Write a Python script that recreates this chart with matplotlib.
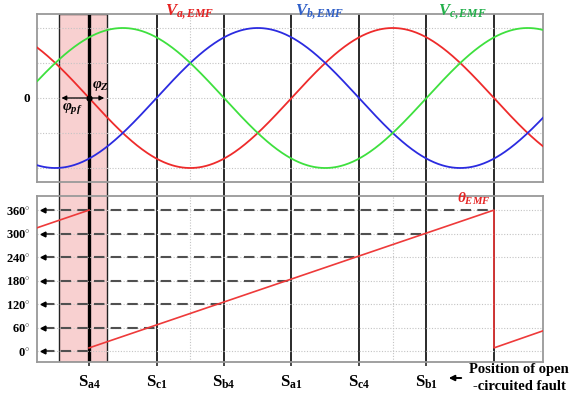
import matplotlib
matplotlib.use('Agg')
import matplotlib.pyplot as plt
import numpy as np

plt.rcParams['font.family'] = ['Liberation Serif', 'DejaVu Serif']
plt.rcParams['font.weight'] = 'bold'
plt.rcParams['mathtext.fontset'] = 'custom'
plt.rcParams['mathtext.rm'] = 'Liberation Serif:bold'
plt.rcParams['mathtext.it'] = 'Liberation Serif:italic:bold'
plt.rcParams['mathtext.bf'] = 'Liberation Serif:bold'

# --- data (angles in electrical degrees) ---
phase_labels = ['a', 'b', 'c']
phase_shift = [0, 240, 120]
phase_colors = ['#ee2b2b', '#2b2be0', '#3ee03e']
label_colors = ['#e52222', '#2f5fc8', '#22b04a']
amplitude = 1.0

switch_angles = [0, 60, 120, 180, 240, 300]
switch_names = ['a4', 'c1', 'b4', 'a1', 'c4', 'b1']
fault_angle = 360

# sawtooth of theta_EMF (NaN splits the jump hidden behind S_a4)
theta_x = [-46, 0, np.nan, 0, 360, 360, 404]
theta_y = [315, 360, np.nan, 8, 360, 8, 52]

level_ticks = [0, 60, 120, 180, 240, 300, 360]
level_ends = [0, 60, 120, 180, 240, 300, 360]

phi_pf = 27
phi_z = 16

XMIN, XMAX = -46.0, 403.6
W, H = 571, 398


def fx(px):
    return px / W


def fy(py):
    return 1 - py / H


fig = plt.figure(figsize=(W / 100, H / 100), dpi=100)
fig.patch.set_facecolor('white')

L, R = 37.3, 543
ov = fig.add_axes([fx(L), fy(362), fx(R) - fx(L), fy(14) - fy(362)], zorder=0)
ax1 = fig.add_axes([fx(L), fy(182), fx(R) - fx(L), fy(14) - fy(182)], zorder=1)
ax2 = fig.add_axes([fx(L), fy(362), fx(R) - fx(L), fy(196) - fy(362)], zorder=1)

# overlay: fault window and switching lines across both panels
ov.set_xlim(XMIN, XMAX)
ov.set_ylim(0, 1)
ov.axis('off')
ov.axvspan(-phi_pf, phi_z, facecolor='#f8d0d0', edgecolor='#222222', lw=1.0)
for a in switch_angles[1:] + [fault_angle]:
    ov.axvline(a, color='#2a2a2a', lw=1.4)
ov.axvline(switch_angles[0], color='black', lw=2.4)

grid_kw = dict(color='#c4c4c4', lw=0.8, ls=(0, (1, 1.5)), zorder=0)

# --- top panel: back-EMF waveforms ---
ax1.set_facecolor('none')
theta = np.linspace(XMIN, XMAX, 600)
for ph, c in zip(phase_shift, phase_colors):
    ax1.plot(theta, -amplitude * np.sin(np.radians(theta - ph)), color=c, lw=1.3, zorder=3)
for g in [-1, -0.5, 0, 0.5, 1]:
    ax1.axhline(g, **grid_kw)
for g in [90, 270]:
    ax1.axvline(g, **grid_kw)
ax1.set_xlim(XMIN, XMAX)
ax1.set_ylim(-1.2, 1.2)
ax1.set_xticks([])
ax1.set_yticks([0])
ax1.set_yticklabels(['0'], fontsize=9.5, fontweight='bold')
ax1.tick_params(axis='y', length=0, pad=5)
for s in ax1.spines.values():
    s.set_color('#999999')
    s.set_linewidth(1.3)

# phase-angle arrows
ax1.annotate('', xy=(-phi_pf, 0), xytext=(0, 0),
             arrowprops=dict(arrowstyle='-|>', color='black', lw=0.9, mutation_scale=7), zorder=5)
ax1.annotate('', xy=(phi_z, 0), xytext=(0, 0),
             arrowprops=dict(arrowstyle='-|>', color='black', lw=0.9, mutation_scale=7), zorder=5)
ax1.plot(0, 0, 'o', color='black', ms=3.5, zorder=6)
ax1.text(-15, -0.15, r'$\varphi_{pf}$', fontsize=11, ha='center', va='center', zorder=6)
ax1.text(10, 0.17, r'$\varphi_{Z}$', fontsize=11, ha='center', va='center', zorder=6)

for lab, c, px in zip(phase_labels, label_colors, [190, 320, 462]):
    fig.text(fx(px), fy(12), r'$V_{%s,EMF}$' % lab, color=c, fontsize=12,
             ha='center', va='center', zorder=5)

# --- bottom panel: electrical angle ---
ax2.set_facecolor('none')
ax2.plot(theta_x, theta_y, color='#ee3a3a', lw=1.2, zorder=3)
for lv in level_ticks:
    ax2.axhline(lv, **grid_kw)
for g in [90, 270]:
    ax2.axvline(g, **grid_kw)
for lv, end in zip(level_ticks, level_ends):
    ax2.plot([-40, end], [lv, lv], color='#505050', lw=1.5, ls=(0, (5, 3)), zorder=2)
    ax2.plot(-41, lv, marker='<', ms=3.5, color='black', zorder=4)
ax2.set_xlim(XMIN, XMAX)
ax2.set_ylim(-28, 396)
ax2.set_yticks(level_ticks)
ax2.set_yticklabels([r'%d$^{\circ}$' % v for v in level_ticks], fontsize=9, fontweight='bold')
ax2.tick_params(axis='y', length=0, pad=5)
ax2.set_xticks(switch_angles)
ax2.set_xticklabels([r'$\mathrm{S}_{\mathrm{%s}}$' % n for n in switch_names], fontsize=12)
ax2.tick_params(axis='x', length=3, width=1.2, color='#2a2a2a', pad=5)
for s in ax2.spines.values():
    s.set_color('#999999')
    s.set_linewidth(1.3)

fig.text(fx(474), fy(199), r'$\theta_{EMF}$', color='#e52222', fontsize=11,
         ha='center', va='center', zorder=5)

# fault position note
fig.text(fx(519), fy(369), 'Position of open', fontsize=10.5, ha='center', va='center')
fig.text(fx(519), fy(386), '-circuited fault', fontsize=10.5, ha='center', va='center')
ax2.annotate('', xy=(fx(446), fy(378)), xytext=(fx(464), fy(378)),
             xycoords='figure fraction', textcoords='figure fraction',
             arrowprops=dict(arrowstyle='-|>', color='black', lw=1.4, mutation_scale=8),
             annotation_clip=False)

fig.savefig('out.png', dpi=100)
